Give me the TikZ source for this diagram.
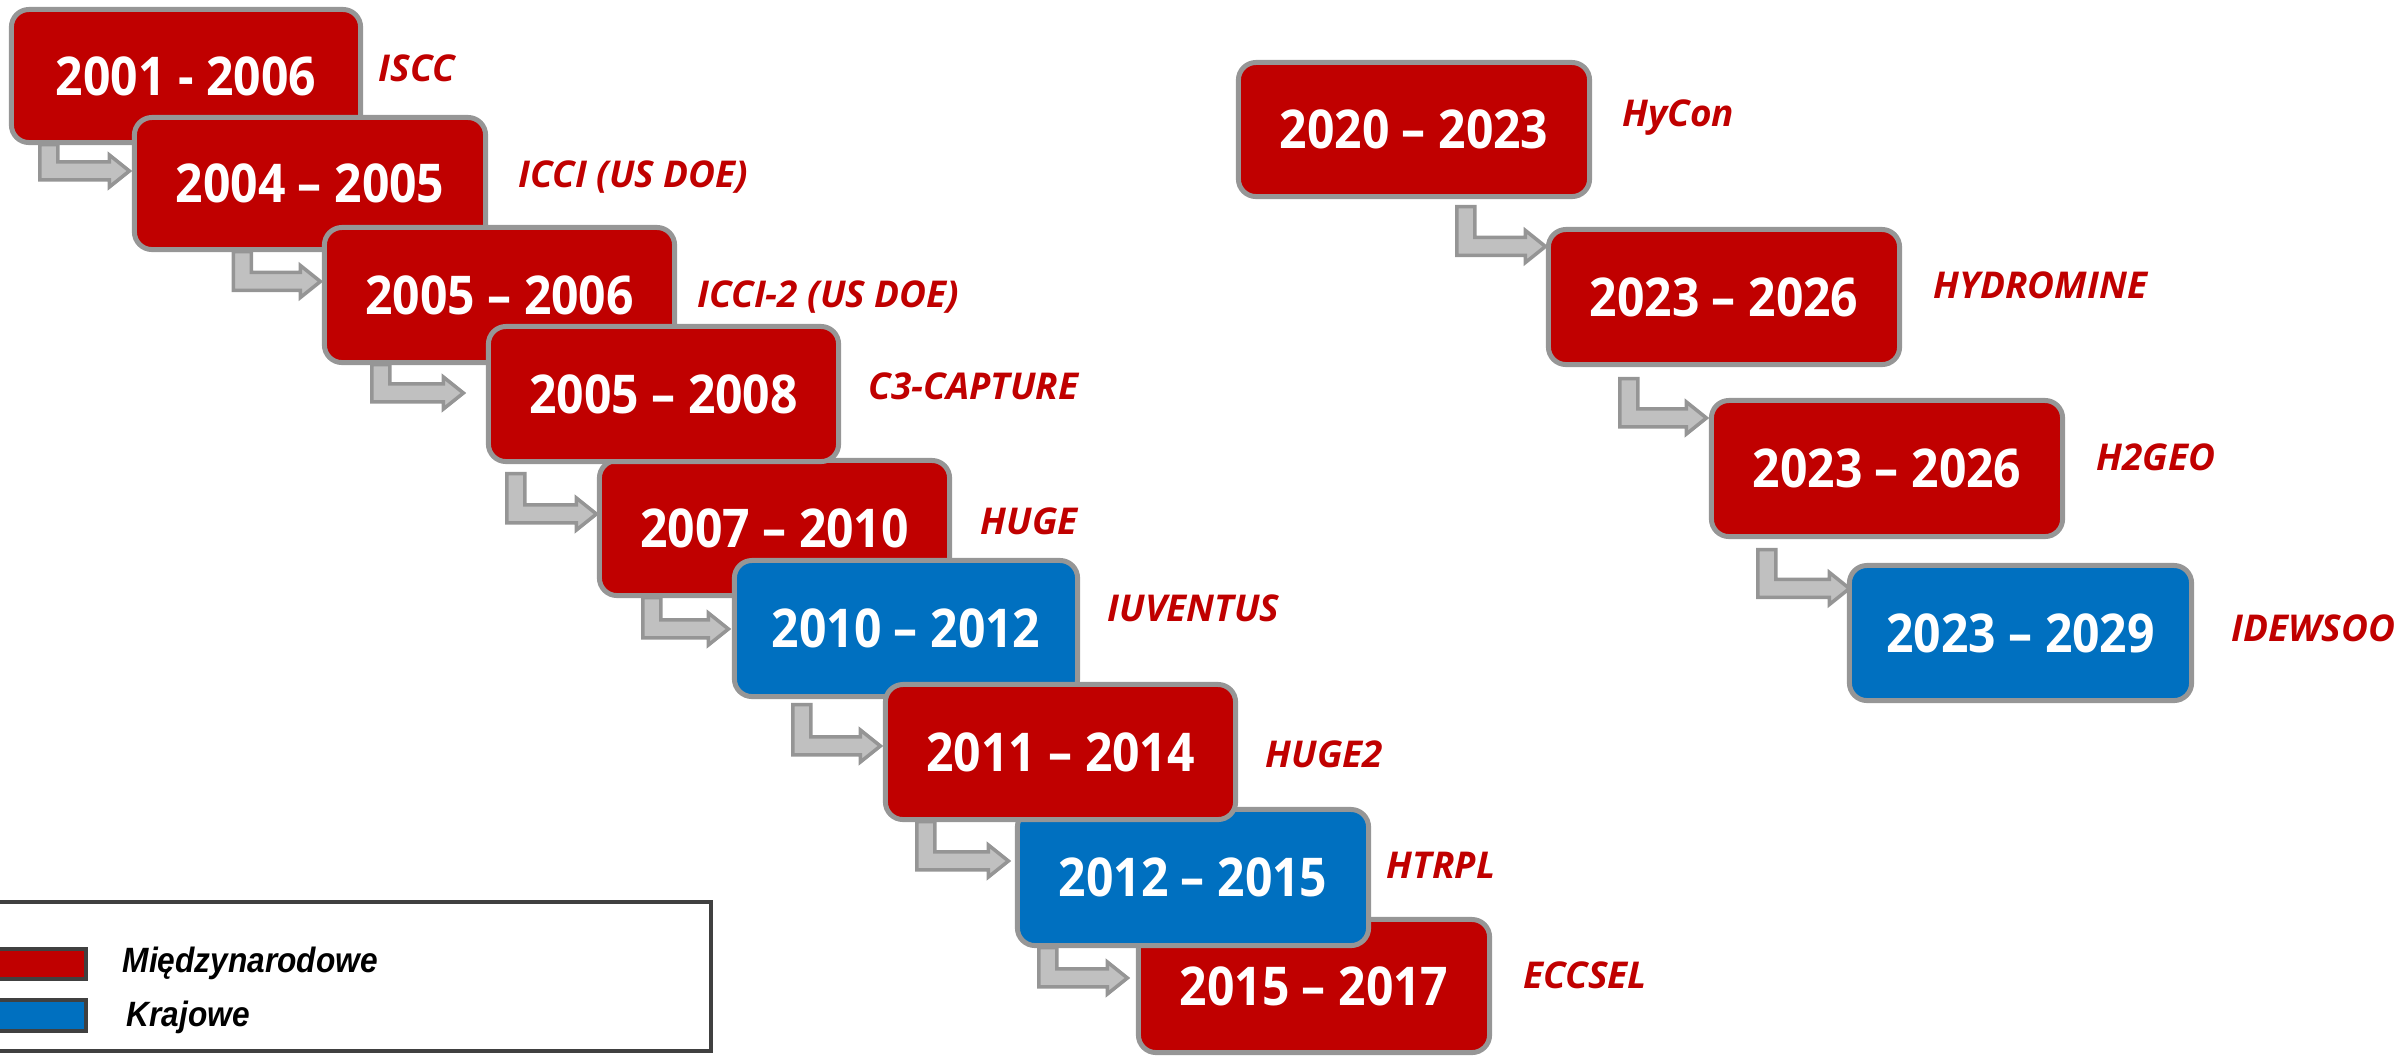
\documentclass[tikz,border=0pt]{standalone}
\usepackage{fontspec}
\setmainfont{Open Sans}
\newfontfamily\boxfont[FakeStretch=0.9]{Open Sans}
\newfontfamily\lblfont{Open Sans}
\newfontfamily\legfont[FakeStretch=0.9]{Liberation Sans}
\usetikzlibrary{calc,backgrounds}
\definecolor{pred}{HTML}{C00000}
\definecolor{pblue}{HTML}{0070C0}
\definecolor{bgray}{HTML}{969696}
\definecolor{agray}{HTML}{959595}
\definecolor{afill}{HTML}{C0C0C0}
\definecolor{lgray}{HTML}{404040}
\newcommand\elbow[6]{%
  \coordinate (#1-#2-s) at ($(#1.south west)+(#3,#4)$);
  \coordinate (#1-#2-e) at ($(#2.north west)+(#5,#6)$);
  \draw[conn] ($(#1-#2-s)+(-9,0)$) |- ($(#1-#2-e)+(-20,9)$) -- ++(0,7) -- (#1-#2-e)
    -- ++(-20,-16) -- ++(0,7) -| ($(#1-#2-s)+(9,0)$) -- cycle;
}
\begin{document}
\begin{tikzpicture}[x=0.01cm,y=-0.01cm,
  period/.style={draw=bgray, line width=1.42pt, rounded corners=5pt, inner sep=0pt,
    outer sep=0pt, text=white, font=\boxfont\bfseries\fontsize{15.2}{18}\selectfont},
  redp/.style={period, fill=pred},
  bluep/.style={period, fill=pblue},
  lbl/.style={text=pred, anchor=west, inner sep=0pt,
    font=\lblfont\bfseries\itshape\fontsize{10.5}{13}\selectfont},
  conn/.style={draw=agray, fill=afill, line width=1pt, line join=miter},
  swatch/.style={draw=lgray, line width=1.1pt, inner sep=0pt, outer sep=0pt},
  legtext/.style={anchor=west, inner sep=0pt, text=black,
    font=\legfont\bfseries\itshape\fontsize{10}{12}\selectfont}]
\useasboundingbox (0,0) rectangle (2402,1056);

% periods (drawing order gives the overlaps)
\node[redp, minimum width=3.49cm, minimum height=1.33cm] (b1) at (186,76) {2001 - 2006};
\node[redp, minimum width=3.51cm, minimum height=1.32cm] (b2) at (310,183.5) {2004 – 2005};
\node[redp, minimum width=3.50cm, minimum height=1.35cm] (b3) at (499.5,295) {2005 – 2006};
\node[redp, minimum width=3.50cm, minimum height=1.35cm] (b5) at (774.5,528) {2007 – 2010};
\node[redp, minimum width=3.50cm, minimum height=1.35cm] (b4) at (663.5,394) {2005 – 2008};
\node[bluep, minimum width=3.43cm, minimum height=1.36cm] (b6) at (906,628.5) {2010 – 2012};
\node[redp, minimum width=3.51cm, minimum height=1.33cm] (b9) at (1314,986) {2015 – 2017};
\node[bluep, minimum width=3.51cm, minimum height=1.36cm] (b8) at (1193,877.5) {2012 – 2015};
\node[redp, minimum width=3.50cm, minimum height=1.35cm] (b7) at (1060.5,752) {2011 – 2014};

\node[redp, minimum width=3.51cm, minimum height=1.34cm] (b10) at (1414,129.5) {2020 – 2023};
\node[redp, minimum width=3.51cm, minimum height=1.35cm] (b11) at (1724,297) {2023 – 2026};
\node[redp, minimum width=3.51cm, minimum height=1.36cm] (b12) at (1887,468.5) {2023 – 2026};
\node[bluep, minimum width=3.42cm, minimum height=1.35cm] (b13) at (2020.5,633) {2023 – 2029};

% connectors
\begin{pgfonlayer}{background}
\elbow{b1}{b2}{37.5}{2}{-5}{53.5}
\elbow{b2}{b3}{108}{2}{-4}{54}
\elbow{b3}{b4}{56.5}{2}{-25}{66.5}
\elbow{b4}{b5}{27.5}{12}{-3}{53.5}
\elbow{b5}{b6}{52.5}{2}{-6}{68.5}
\elbow{b6}{b7}{67.5}{8}{-5}{61.5}
\elbow{b7}{b8}{40.5}{2}{-9}{51.5}
\elbow{b8}{b9}{30.5}{2}{-11}{58.5}
\elbow{b10}{b11}{227.5}{10}{-3}{17}
\elbow{b11}{b12}{80.5}{14}{-5}{17.5}
\elbow{b12}{b13}{55.5}{13}{0}{23}
\end{pgfonlayer}

% project names
\node[lbl] (l1) at (378,68) {ISCC};
\node[lbl] (l2) at (518,177) {ICCI (US DOE)};
\node[lbl] (l3) at (697,297) {ICCI-2 (US DOE)};
\node[lbl] (l4) at (868,386) {C3-CAPTURE};
\node[lbl] (l5) at (980,521) {HUGE};
\node[lbl] (l6) at (1107,608) {IUVENTUS};
\node[lbl] (l7) at (1265,754) {HUGE2};
\node[lbl] (l8) at (1386,865) {HTRPL};
\node[lbl] (l9) at (1523,975) {ECCSEL};
\node[lbl] (l10) at (1622,118) {HyCon};
\node[lbl] (l11) at (1933,285) {HYDROMINE};
\node[lbl] (l12) at (2096,457) {H2GEO};
\node[lbl] (l13) at (2231,628) {IDEWSOO};

% legend
\node[swatch, fill=white, minimum width=7.19cm, minimum height=1.49cm] (legend) at (351.5,976.5) {};
\node[swatch, fill=pred, minimum width=0.94cm, minimum height=0.30cm] (sw1) at (39,964) {};
\node[swatch, fill=pblue, minimum width=0.94cm, minimum height=0.31cm] (sw2) at (39,1015.5) {};
\node[legtext] (t1) at (122,963) {Międzynarodowe};
\node[legtext] (t2) at (126,1017) {Krajowe};
\end{tikzpicture}
\end{document}
